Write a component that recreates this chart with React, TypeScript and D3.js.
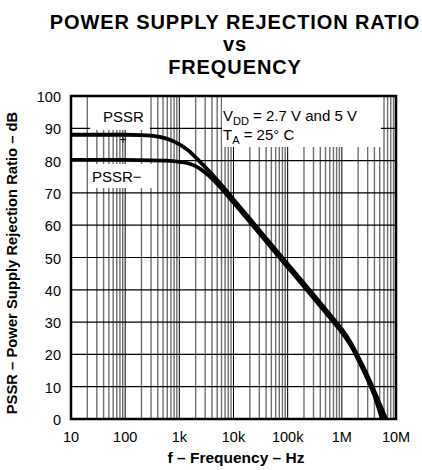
import * as d3 from "d3";

// frequency axis
const freqTicks = [10, 100, 1e3, 1e4, 1e5, 1e6, 1e7];
const freqLabels = ["10", "100", "1k", "10k", "100k", "1M", "10M"];
const dbTicks = [0, 10, 20, 30, 40, 50, 60, 70, 80, 90, 100];

// PSSR+ (Hz, dB)
const plusFreq = [10, 100, 200, 300, 500, 700, 1e3, 1.5e3, 2e3, 3e3, 5e3, 1e4, 2e4, 5e4, 1e5, 2e5, 5e5, 7e5, 1e6, 1.5e6, 2e6, 3e6, 4e6, 5e6, 6.6e6];
const plusDb = [88, 88, 87.9, 87.7, 87.1, 86.3, 85, 83, 81, 78, 74, 68, 62, 54, 48, 42, 34, 31, 27.8, 23.3, 19.3, 13.3, 8.6, 4.7, 0];

// PSSR-
const minusFreq = [10, 100, 300, 500, 700, 1e3, 1.5e3, 2e3, 3e3, 5e3, 1e4, 2e4, 5e4, 1e5, 2e5, 5e5, 7e5, 1e6, 1.5e6, 2e6, 3e6, 4e6, 5.5e6];
const minusDb = [80.2, 80.2, 80.1, 80, 79.9, 79.6, 79.1, 78.3, 76.3, 72.8, 67, 61, 53, 47, 41, 33, 30, 26.8, 22.4, 18.4, 12.2, 7.2, 0];

const W = 422;
const H = 470;
const left = 71;
const right = 396;
const top = 96;
const bottom = 419;
const font = "'Liberation Sans', Arial, Helvetica, sans-serif";

export default function App() {
  const x = d3.scaleLog().domain([10, 1e7]).range([left, right]);
  const y = d3.scaleLinear().domain([0, 100]).range([bottom, top]);

  const minor: number[] = [];
  for (let dec = 10; dec < 1e7; dec *= 10) {
    for (let k = 2; k <= 9; k++) minor.push(dec * k);
  }

  const line = d3
    .line<[number, number]>()
    .x((d) => x(d[0]))
    .y((d) => y(d[1]))
    .curve(d3.curveMonotoneX);

  const plus = plusFreq.map((f, i) => [f, plusDb[i]] as [number, number]);
  const minus = minusFreq.map((f, i) => [f, minusDb[i]] as [number, number]);

  return (
    <svg width={W} height={H} style={{ position: "absolute", left: 0, top: 0, background: "#fff" }} fontFamily={font}>
      {/* title */}
      <g fontWeight="bold" fontSize={20} letterSpacing={0.9} textAnchor="middle" fill="#000">
        <text x={235} y={29}>POWER SUPPLY REJECTION RATIO</text>
        <text x={235} y={51}>vs</text>
        <text x={235} y={73.5}>FREQUENCY</text>
      </g>

      {/* grid */}
      <g>
        {minor.map((f) => (
          <line key={f} x1={x(f)} x2={x(f)} y1={top} y2={bottom} stroke="#6e6e6e" strokeWidth={1.4} />
        ))}
        {freqTicks.map((f) => (
          <line key={f} x1={x(f)} x2={x(f)} y1={top} y2={bottom} stroke="#000" strokeWidth={1} />
        ))}
        {dbTicks.map((v) => (
          <line key={v} x1={left} x2={right} y1={y(v)} y2={y(v)} stroke="#000" strokeWidth={1.2} />
        ))}
      </g>

      {/* label backgrounds */}
      <rect x={90} y={top + 1} width={60} height={33} fill="#fff" />
      <rect x={88} y={164} width={64} height={24} fill="#fff" />
      <rect x={222} y={top + 1} width={159} height={50} fill="#fff" />

      {/* curves */}
      <path d={line(minus) ?? ""} fill="none" stroke="#000" strokeWidth={3.8} />
      <path d={line(plus) ?? ""} fill="none" stroke="#000" strokeWidth={3.8} />

      {/* frame */}
      <rect x={left} y={top} width={right - left} height={bottom - top} fill="none" stroke="#000" strokeWidth={2.5} />

      {/* curve labels */}
      <g fontSize={15} fill="#000">
        <text x={103} y={122}>PSSR</text>
        <text x={119.5} y={144} fontSize={12}>+</text>
        <text x={92} y={182}>PSSR−</text>
        <text x={223} y={121}>
          V<tspan dy={4} fontSize={11}>DD</tspan>
          <tspan dy={-4}> = 2.7 V and 5 V</tspan>
        </text>
        <text x={223} y={140}>
          T<tspan dy={4} fontSize={11}>A</tspan>
          <tspan dy={-4}> = 25° C</tspan>
        </text>
      </g>

      {/* y ticks */}
      <g fontSize={14.5} textAnchor="end" fill="#000">
        {dbTicks.map((v) => (
          <text key={v} x={61} y={y(v) + 6}>{v}</text>
        ))}
      </g>

      {/* x ticks */}
      <g fontSize={14.5} textAnchor="middle" fill="#000">
        {freqTicks.map((f, i) => (
          <text key={f} x={x(f)} y={442}>{freqLabels[i]}</text>
        ))}
      </g>

      {/* axis titles */}
      <text x={236} y={463} fontSize={15.5} fontWeight="bold" textAnchor="middle">f – Frequency – Hz</text>
      <text
        transform={`translate(17,263) rotate(-90)`}
        fontSize={14.8}
        fontWeight="bold"
        textAnchor="middle"
      >
        PSSR – Power Supply Rejection Ratio – dB
      </text>
    </svg>
  );
}
